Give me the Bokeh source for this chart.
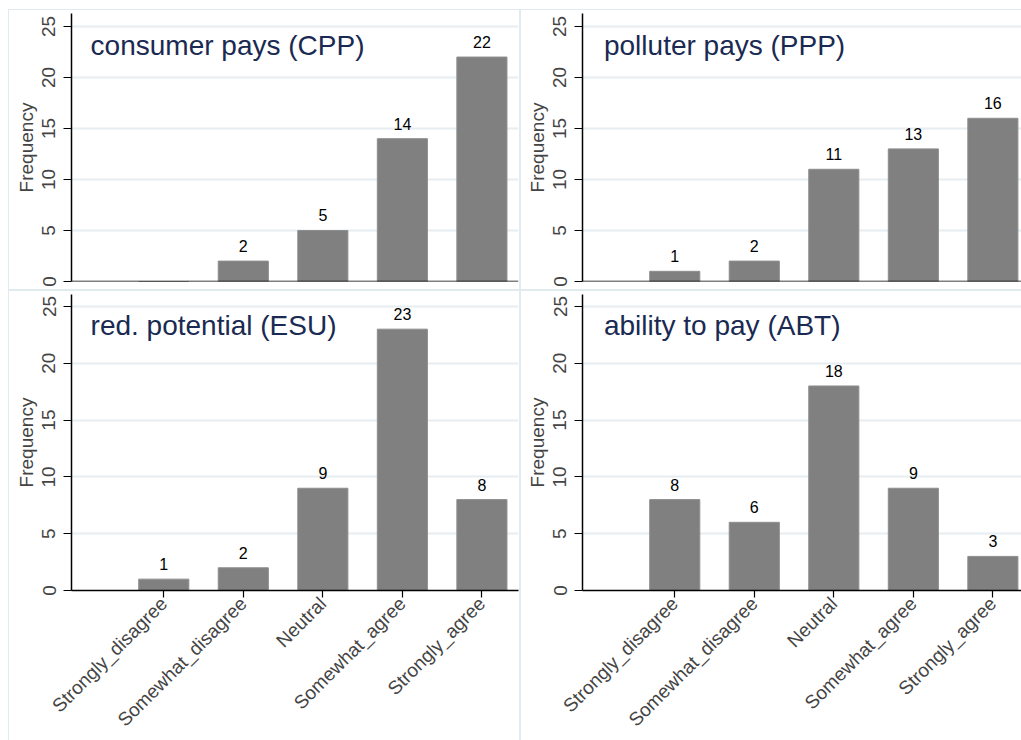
import math
from bokeh.plotting import figure
from bokeh.layouts import column, row
from bokeh.models import FixedTicker, Range1d, ColumnDataSource, Span
from bokeh.core.properties import value
from bokeh.embed import file_html
from bokeh.resources import INLINE

categories = ["Strongly_disagree", "Somewhat_disagree", "Neutral", "Somewhat_agree", "Strongly_agree"]
positions = [1, 2, 3, 4, 5]
titles = ["consumer pays (CPP)", "polluter pays (PPP)", "red. potential (ESU)", "ability to pay (ABT)"]
cpp = [0, 2, 5, 14, 22]
ppp = [1, 2, 11, 13, 16]
esu = [1, 2, 9, 23, 8]
abt = [8, 6, 18, 9, 3]
y_ticks = [0, 5, 10, 15, 20, 25]

FONT = "Liberation Sans"
BAR = "#808080"
GRID = "#e6eef1"
TITLE_C = "#1a2a52"
LC = "#e1eaee"

SHADOW_TL = f"inset 8px 9px 0 0 white, inset 9px 10px 0 0 {LC}, inset -1px -1px 0 0 {LC}"
SHADOW_TR = f"inset 0 9px 0 0 white, inset 1px 10px 0 0 {LC}, inset 0 -1px 0 0 {LC}"
SHADOW_BL = f"inset 8px 0 0 0 white, inset 9px 1px 0 0 {LC}, inset -1px 0 0 0 {LC}"
SHADOW_BR = f"inset 1px 1px 0 0 {LC}"


def panel(vals, title, width, height, x_end, y_end, top_b, bot_b, left_b, right_b,
          show_x, title_x, title_y, shadow):
    p = figure(width=width, height=height, output_backend="svg", toolbar_location=None,
               x_range=Range1d(-0.16, x_end), y_range=Range1d(0, y_end),
               min_border_left=left_b, min_border_right=right_b,
               min_border_top=top_b, min_border_bottom=bot_b,
               background_fill_color=None, border_fill_color=None,
               outline_line_color=None,
               styles={"box-shadow": shadow})
    src = ColumnDataSource(dict(x=positions, top=vals,
                                lab=[str(v) if v > 0 else "" for v in vals]))
    p.vbar(x="x", top="top", width=0.63, source=src, fill_color=BAR,
           line_color="#8e8e8e", line_width=1)
    p.text(x="x", y="top", text="lab", source=src, text_align="center",
           text_baseline="bottom", y_offset=-9, text_font=value(FONT),
           text_font_size="16px", text_color="black")
    p.text(x=[title_x], y=[title_y], text=[title], text_align="left",
           text_baseline="middle", text_font=value(FONT),
           text_font_size="28px", text_color=TITLE_C)

    p.xgrid.visible = False
    p.ygrid.ticker = FixedTicker(ticks=y_ticks[1:])
    p.ygrid.grid_line_color = GRID
    p.ygrid.grid_line_width = 2

    ya = p.yaxis[0]
    ya.ticker = FixedTicker(ticks=y_ticks)
    ya.axis_label = "Frequency"
    ya.axis_label_text_font = FONT
    ya.axis_label_text_font_size = "19px"
    ya.axis_label_text_font_style = "normal"
    ya.axis_label_standoff = 3
    ya.major_label_orientation = "vertical"
    ya.major_label_text_font = FONT
    ya.major_label_text_font_size = "19px"
    ya.major_label_standoff = 8
    ya.major_tick_out = 8
    ya.major_tick_in = 0
    ya.minor_tick_line_color = None
    ya.axis_line_width = 1.5
    ya.major_tick_line_width = 1.2

    xa = p.xaxis[0]
    if show_x:
        xa.axis_line_width = 1.5
        xa.minor_tick_line_color = None
        xa.ticker = FixedTicker(ticks=positions)
        xa.major_label_overrides = {pos: c for pos, c in zip(positions, categories)}
        xa.major_label_orientation = math.pi / 4
        xa.major_label_text_font = FONT
        xa.major_label_text_font_size = "19px"
        xa.major_label_standoff = 3
        xa.major_tick_out = 7
        xa.major_tick_in = 0
        xa.major_tick_line_width = 1.2
    else:
        xa.visible = False
        p.add_layout(Span(location=0, dimension="width", line_color="black", line_width=1.5))
    return p


p1 = panel(cpp, titles[0], 520, 290, 5.46, 26.27, 13, 9, 71, 2, False, 0.08, 23.1, SHADOW_TL)
p2 = panel(ppp, titles[1], 501, 290, 5.36, 26.27, 13, 9, 62, 0, False, 0.11, 23.1, SHADOW_TR)
p3 = panel(esu, titles[2], 520, 450, 5.46, 26.05, 4, 0, 71, 2, True, 0.08, 23.35, SHADOW_BL)
p4 = panel(abt, titles[3], 501, 450, 5.36, 26.05, 4, 0, 62, 0, True, 0.11, 23.35, SHADOW_BR)

layout = column(row(p1, p2, spacing=0), row(p3, p4, spacing=0), spacing=0)

open("out.html", "w").write(file_html(layout, INLINE))
